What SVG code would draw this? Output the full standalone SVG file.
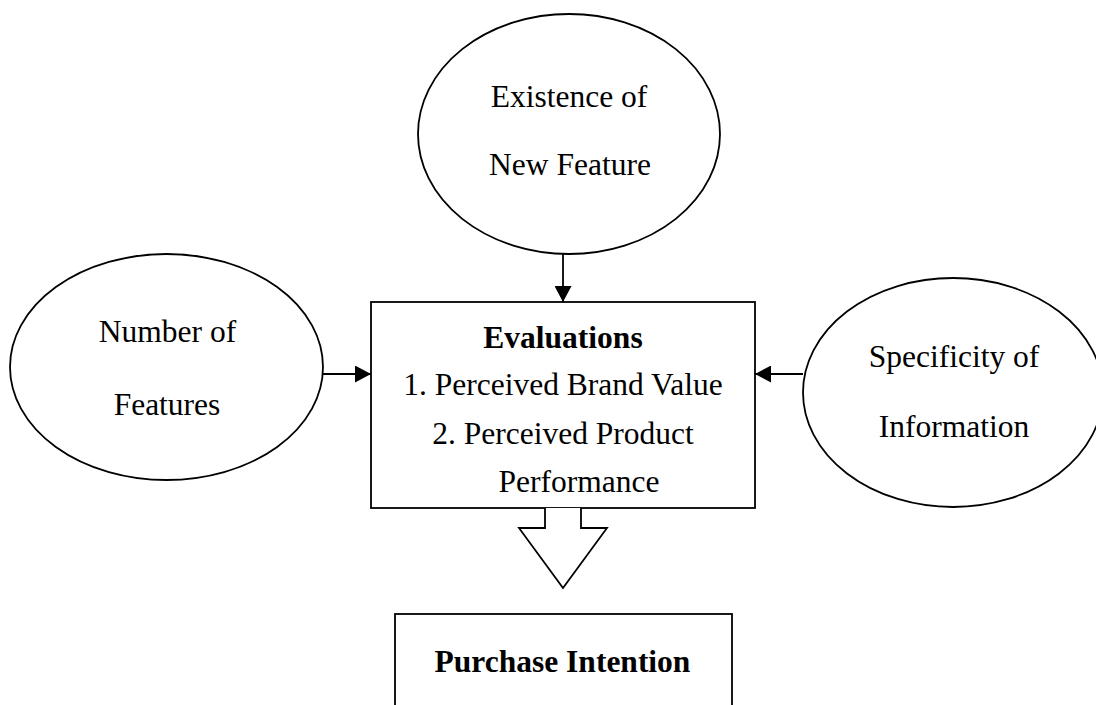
<svg xmlns="http://www.w3.org/2000/svg" width="1096" height="705" viewBox="0 0 1096 705">
<style>
.s{fill:#fff;stroke:#000;stroke-width:1.8}
.t{font-family:"Liberation Serif","Times New Roman",serif;font-size:31.5px;fill:#000;text-anchor:middle}
.b{font-weight:bold}
.c{stroke:#000;stroke-width:1.8;fill:none}
</style>
<defs>
<marker id="ah" markerUnits="userSpaceOnUse" markerWidth="16" markerHeight="17" refX="16" refY="8.5" orient="auto">
<path d="M0,0 L16,8.5 L0,17 Z" fill="#000"/>
</marker>
</defs>
<rect width="1096" height="705" fill="#fff"/>
<g id="existence">
<ellipse class="s" cx="569" cy="134" rx="151" ry="120"/>
<text class="t" x="569" y="107">Existence of</text>
<text class="t" x="570" y="175">New Feature</text>
</g>
<g id="number">
<ellipse class="s" cx="166.5" cy="367" rx="156.5" ry="113"/>
<text class="t" x="167.5" y="342">Number of</text>
<text class="t" x="167" y="415">Features</text>
</g>
<g id="specificity">
<ellipse class="s" cx="953" cy="392.5" rx="150" ry="114.5"/>
<text class="t" x="954" y="367">Specificity of</text>
<text class="t" x="954" y="437">Information</text>
</g>
<g id="evaluations">
<rect class="s" x="371" y="302" width="384" height="206"/>
<text class="t b" x="563" y="348">Evaluations</text>
<text class="t" x="563" y="395">1. Perceived Brand Value</text>
<text class="t" x="563" y="444">2. Perceived Product</text>
<text class="t" x="579" y="492">Performance</text>
</g>
<g id="purchase">
<rect class="s" x="395" y="614" width="337" height="120"/>
<text class="t b" x="562.5" y="672">Purchase Intention</text>
</g>
<g id="connectors">
<line class="c" x1="563" y1="254" x2="563" y2="302" marker-end="url(#ah)"/>
<line class="c" x1="323" y1="374" x2="371" y2="374" marker-end="url(#ah)"/>
<line class="c" x1="803" y1="374" x2="755" y2="374" marker-end="url(#ah)"/>
<path class="s" d="M545,508 L545,528 L519,528 L563,588 L607,528 L581,528 L581,508"/>
</g>
</svg>
